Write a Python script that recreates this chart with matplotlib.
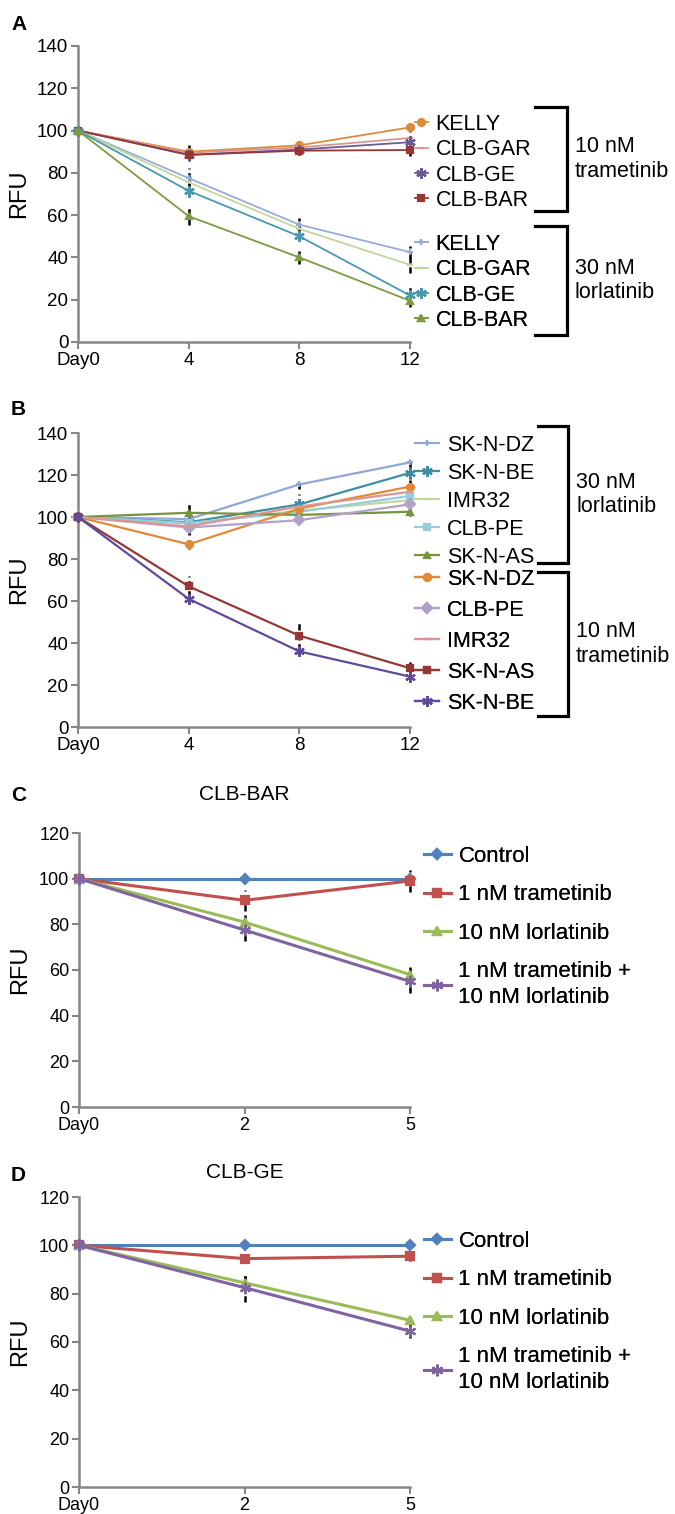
import numpy as np
import matplotlib
matplotlib.use("Agg")
import matplotlib.pyplot as plt
from matplotlib.lines import Line2D

plt.rcParams['font.family'] = ['Liberation Sans', 'DejaVu Sans']

W, H = 675, 1514

# ---- data ----
days_ab = ['Day0', '4', '8', '12']
days_cd = ['Day0', '2', '5']

# panel A, 10 nM trametinib
a_tra_names = ['KELLY', 'CLB-GAR', 'CLB-GE', 'CLB-BAR']
a_tra_vals = [[100, 90, 93, 101.5], [100, 89.5, 92, 96.5], [100, 88.5, 91, 94.5], [100, 88.5, 90.5, 90.8]]
a_tra_err = [[0, 3, 2, 2], [0, 2, 2, 2], [0, 2, 2, 2], [0, 3, 2, 3]]
# panel A, 30 nM lorlatinib
a_lor_names = ['KELLY', 'CLB-GAR', 'CLB-GE', 'CLB-BAR']
a_lor_vals = [[100, 77.5, 55.5, 42.5], [100, 75.5, 53.5, 36.5], [100, 71.5, 50, 22], [100, 59.5, 40, 19.5]]
a_lor_err = [[0, 5, 3, 3], [0, 4, 3, 4], [0, 3, 2, 4], [0, 4, 3, 3]]

# panel B, 30 nM lorlatinib
b_lor_names = ['SK-N-DZ', 'SK-N-BE', 'IMR32', 'CLB-PE', 'SK-N-AS']
b_lor_vals = [[100, 99, 115.5, 126], [100, 97.5, 106, 121], [100, 97, 103, 108], [100, 97, 102.5, 110], [100, 102, 101, 102.5]]
b_lor_err = [[0, 3, 2, 2], [0, 3, 5, 3], [0, 3, 3, 3], [0, 3, 3, 3], [0, 4, 2, 2]]
# panel B, 10 nM trametinib
b_tra_names = ['SK-N-DZ', 'CLB-PE', 'IMR32', 'SK-N-AS', 'SK-N-BE']
b_tra_vals = [[100, 87, 104, 114.5], [100, 95, 98.5, 106], [100, 95.5, 105, 112], [100, 67, 43.5, 28], [100, 61, 36, 24]]
b_tra_err = [[0, 2, 3, 3], [0, 3, 2, 2], [0, 4, 3, 3], [0, 5, 7, 3], [0, 2, 2, 2]]

# panels C and D
cd_names = ['Control', '1 nM trametinib', '10 nM lorlatinib', '1 nM trametinib +\n10 nM lorlatinib']
c_vals = [[100, 100, 100], [100, 90.5, 99], [100, 81, 58], [100, 77.5, 55]]
c_err = [[0, 0, 0], [0, 4.5, 5], [0, 3, 3.5], [0, 5, 5]]
d_vals = [[100, 100, 100], [100, 94.5, 95.5], [100, 84.5, 69], [100, 82.5, 64.5]]
d_err = [[0, 0, 0], [0, 2, 2], [0, 3, 2], [0, 6, 3]]

# ---- styles ----
AST = (6, 2, 0)
a_tra_sty = [('#dc8a3c', 'o'), ('#d99694', '_'), ('#6a5a95', AST), ('#953735', 's')]
a_lor_sty = [('#98acd8', '+'), ('#c3d69b', '_'), ('#4a98ae', AST), ('#7f9a42', '^')]
b_lor_sty = [('#90a6d4', '+'), ('#3f8fa3', AST), ('#c3d69b', '_'), ('#93cddd', 's'), ('#77933c', '^')]
b_tra_sty = [('#e08a38', 'o'), ('#b3a2c7', 'D'), ('#d99694', '_'), ('#953735', 's'), ('#604a9b', AST)]
cd_sty = [('#4f81bd', 'D'), ('#c0504d', 's'), ('#9bbb59', '^'), ('#8064a2', AST)]

GRAY = '#868686'


def box(l, t, r, b):
    return [l / W, 1 - b / H, (r - l) / W, (b - t) / H]


def px(x, y):
    return (x / W, 1 - y / H)


def series(ax, vals, errs, styles, lw, ms):
    handles = []
    for v, e, (c, m) in zip(vals, errs, styles):
        x = np.arange(len(v))
        size = ms * 1.5 if m == AST else ms
        eb = ax.errorbar(x, v, yerr=e, color=c, marker=m, ms=size, lw=lw, mew=1.6,
                         ecolor='black', elinewidth=1.8, capsize=0, clip_on=False, zorder=3)
        eb[2][0].set_linestyle((0, (2.5, 1.5)))
        eb[2][0].set_clip_on(False)
        handles.append(Line2D([], [], color=c, marker=m, ms=size, lw=lw, mew=1.6))
    return handles


def style_axes(ax, days, ymax, tsize):
    for s in ['top', 'right']:
        ax.spines[s].set_visible(False)
    for s in ['left', 'bottom']:
        ax.spines[s].set_color(GRAY)
        ax.spines[s].set_linewidth(1.8)
    ax.set_xlim(0, len(days) - 1)
    ax.set_ylim(0, ymax)
    ax.set_xticks(range(len(days)))
    ax.set_xticklabels(days)
    ax.set_yticks(range(0, ymax + 1, 20))
    ax.tick_params(direction='out', length=5, width=1.5, color=GRAY, labelsize=tsize, pad=2)
    ax.set_ylabel('RFU', fontsize=17)
    ax.yaxis.set_label_coords(-48 / 332, 0.5)


def legend(ax, handles, names, anchor, size, hl, htp, ls):
    lg = ax.legend(handles, names, loc='upper left', bbox_to_anchor=px(*anchor),
                   bbox_transform=ax.figure.transFigure, frameon=False, fontsize=size,
                   handlelength=hl, handletextpad=htp, labelspacing=ls,
                   borderpad=0, borderaxespad=0)
    for t in lg.get_texts():
        t.set_linespacing(1.3)
    ax.add_artist(lg)


def bracket(fig, x, x0, top, bottom, text, tx):
    fig.add_artist(Line2D([x0 / W, x / W, x / W, x0 / W],
                          [1 - top / H, 1 - top / H, 1 - bottom / H, 1 - bottom / H],
                          color='black', lw=2.3, solid_joinstyle='miter'))
    fig.text(tx / W, 1 - (top + bottom) / 2 / H, text, fontsize=15.5, va='center', ha='left',
             linespacing=1.2)


fig = plt.figure(figsize=(W / 100, H / 100), dpi=100)

# ---- panel A ----
axA = fig.add_axes(box(78, 46, 410, 342))
hA1 = series(axA, a_tra_vals, a_tra_err, a_tra_sty, 1.3, 5)
hA2 = series(axA, a_lor_vals, a_lor_err, a_lor_sty, 1.3, 5)
style_axes(axA, days_ab, 140, 13.5)
legend(axA, hA1, a_tra_names, (415, 114), 15.5, 0.6, 0.35, 0.2)
legend(axA, hA2, a_lor_names, (415, 234), 15.5, 0.6, 0.35, 0.2)
bracket(fig, 567, 535, 107, 211, '10 nM\ntrametinib', 575)
bracket(fig, 567, 535, 226, 335, '30 nM\nlorlatinib', 575)
fig.text(11 / W, 1 - 30 / H, 'A', fontsize=15, fontweight='bold')

# ---- panel B ----
axB = fig.add_axes(box(78, 433, 410, 727))
hB1 = series(axB, b_lor_vals, b_lor_err, b_lor_sty, 1.6, 5)
hB2 = series(axB, b_tra_vals, b_tra_err, b_tra_sty, 1.6, 5)
style_axes(axB, days_ab, 140, 13.5)
legend(axB, hB1, b_lor_names, (415, 435), 15.5, 1.1, 0.4, 0.32)
legend(axB, hB2, b_tra_names, (415, 569), 15.5, 1.1, 0.4, 0.46)
bracket(fig, 568, 538, 426, 563, '30 nM\nlorlatinib', 576)
bracket(fig, 568, 538, 572, 716, '10 nM\ntrametinib', 576)
fig.text(11 / W, 1 - 415 / H, 'B', fontsize=15, fontweight='bold')

# ---- panel C ----
axC = fig.add_axes(box(79, 833, 410, 1107))
hC = series(axC, c_vals, c_err, cd_sty, 2.2, 5.5)
style_axes(axC, days_cd, 120, 13)
legend(axC, hC, cd_names, (424, 846), 16, 1.2, 0.35, 0.78)
axC.set_title('CLB-BAR', fontsize=15, pad=24)
fig.text(11 / W, 1 - 801 / H, 'C', fontsize=15, fontweight='bold')

# ---- panel D ----
axD = fig.add_axes(box(79, 1197, 410, 1487))
hD = series(axD, d_vals, d_err, cd_sty, 2.2, 5.5)
style_axes(axD, days_cd, 120, 13)
legend(axD, hD, cd_names, (424, 1231), 16, 1.2, 0.35, 0.78)
axD.set_title('CLB-GE', fontsize=15, pad=14)
fig.text(11 / W, 1 - 1181 / H, 'D', fontsize=15, fontweight='bold')

fig.savefig('out.png', dpi=100)
